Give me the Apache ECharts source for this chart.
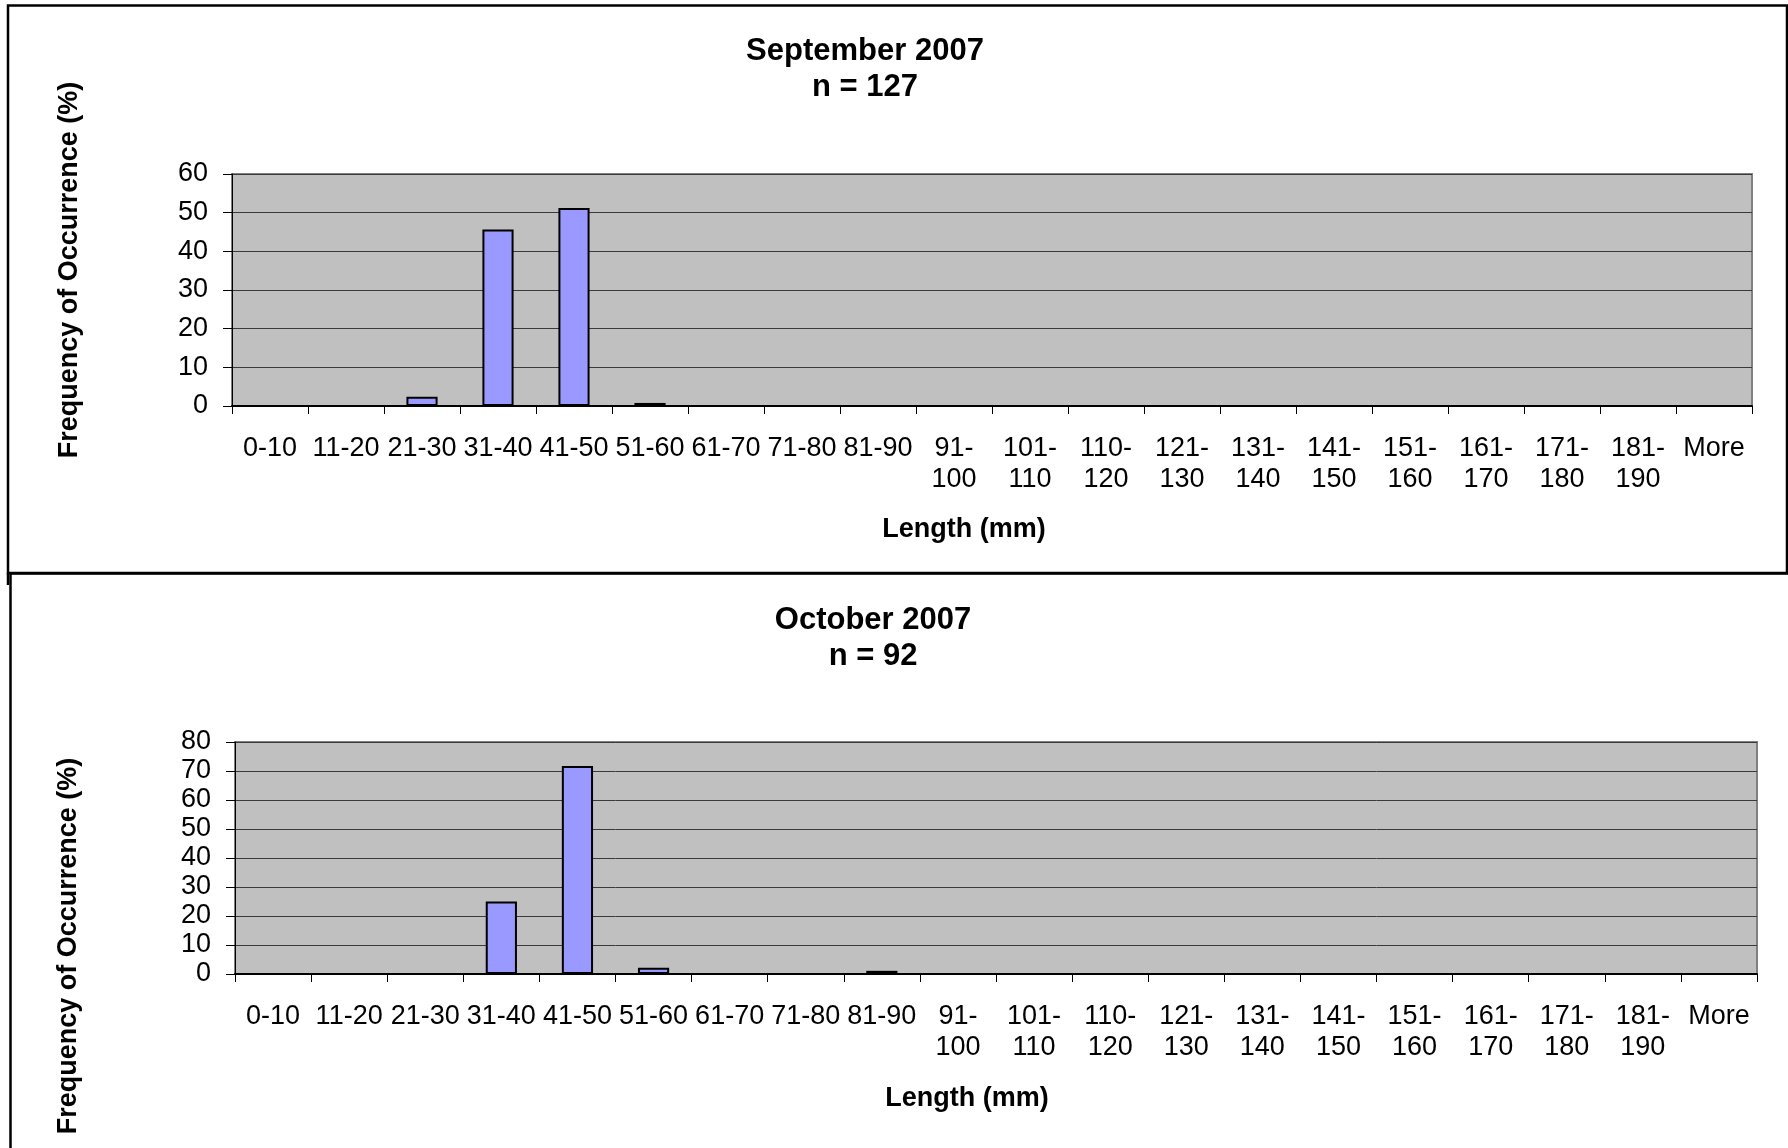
<!DOCTYPE html>
<html>
<head>
<meta charset="utf-8">
<script src="https://cdn.jsdelivr.net/npm/echarts@6/dist/echarts.min.js"></script>
<style>
html,body{margin:0;padding:0;background:#fff;}
#c{width:1788px;height:1148px;}
</style>
</head>
<body>
<div id="c"></div>
<script>
// ---- data ----
const categories = ['0-10','11-20','21-30','31-40','41-50','51-60','61-70','71-80','81-90','91-100','101-110','110-120','121-130','131-140','141-150','151-160','161-170','171-180','181-190','More'];
const septValues = [0,0,2.36,45.67,51.18,0.79,0,0,0,0,0,0,0,0,0,0,0,0,0,0];
const octValues  = [0,0,0,25.0,71.74,2.17,0,0,1.09,0,0,0,0,0,0,0,0,0,0,0];
const septTitle = ['September 2007','n = 127'];
const octTitle = ['October 2007','n = 92'];
const xAxisTitle = 'Length (mm)';
const yAxisTitle = 'Frequency of Occurrence (%)';
const septYMax = 60, octYMax = 80, yStep = 10;

const FONT = '"Liberation Sans", Arial, Helvetica, sans-serif';
const chart = echarts.init(document.getElementById('c'), null, {renderer:'canvas'});

function xAxisCfg(gi){
  return {
    type:'category', gridIndex:gi, data:categories,
    axisLine:{show:true, lineStyle:{color:'#000', width:2}},
    axisTick:{show:true, alignWithLabel:false, interval:0, length:8, lineStyle:{color:'#000', width:1}},
    axisLabel:{interval:0, margin:27, color:'#000', fontFamily:FONT, fontSize:27, lineHeight:31,
      formatter:v => v.length > 5 ? v.replace('-', '-\n') : v},
    splitLine:{show:false}
  };
}
function yAxisCfg(gi, max){
  return {
    type:'value', gridIndex:gi, min:0, max:max, interval:yStep,
    axisLine:{show:true, lineStyle:{color:'#000', width:1}},
    axisTick:{show:true, length:9, lineStyle:{color:'#000', width:1}},
    axisLabel:{margin:24, color:'#000', fontFamily:FONT, fontSize:27},
    splitLine:{show:true, lineStyle:{color:'#3a3a3a', width:1}}
  };
}
function barSeries(idx, data){
  return {
    type:'bar', xAxisIndex:idx, yAxisIndex:idx, data:data, barWidth:'41%',
    itemStyle:{color:'#9999FF', borderColor:'#000', borderWidth:2},
    emphasis:{disabled:true}, animation:false
  };
}
function txt(x, y, s, size, bold, rot){
  return {type:'text', x:x, y:y, rotation:rot||0, z:100,
    style:{text:s, fill:'#000', font:(bold?'bold ':'')+size+'px '+FONT, textAlign:'center', textVerticalAlign:'middle'}};
}

const option = {
  backgroundColor:'#fff',
  animation:false,
  grid:[
    {left:232, top:174, width:1520, height:232, show:true, backgroundColor:'#C0C0C0', borderColor:'#808080', borderWidth:2},
    {left:235, top:742, width:1522, height:232, show:true, backgroundColor:'#C0C0C0', borderColor:'#808080', borderWidth:2}
  ],
  xAxis:[xAxisCfg(0), xAxisCfg(1)],
  yAxis:[yAxisCfg(0, septYMax), yAxisCfg(1, octYMax)],
  series:[barSeries(0, septValues), barSeries(1, octValues)],
  graphic:[
    // outer chart boxes
    {type:'rect', shape:{x:8, y:5.5, width:1779, height:567.5}, style:{fill:null, stroke:'#000', lineWidth:2.5}, z:50},
    {type:'line', shape:{x1:8, y1:573, x2:8, y2:585}, style:{stroke:'#000', lineWidth:2.5}, z:50},
    {type:'rect', shape:{x:10.5, y:573.5, width:1800, height:700}, style:{fill:null, stroke:'#000', lineWidth:2.5}, z:50},
    // titles
    txt(865, 51, septTitle[0], 31, true),
    txt(865, 87, septTitle[1], 31, true),
    txt(873, 620, octTitle[0], 31, true),
    txt(873, 656, octTitle[1], 31, true),
    // axis titles
    txt(964, 530, xAxisTitle, 27, true),
    txt(967, 1099, xAxisTitle, 27, true),
    txt(70, 270, yAxisTitle, 27, true, Math.PI/2),
    txt(69, 946, yAxisTitle, 27, true, Math.PI/2)
  ]
};
chart.setOption(option);
</script>
</body>
</html>
